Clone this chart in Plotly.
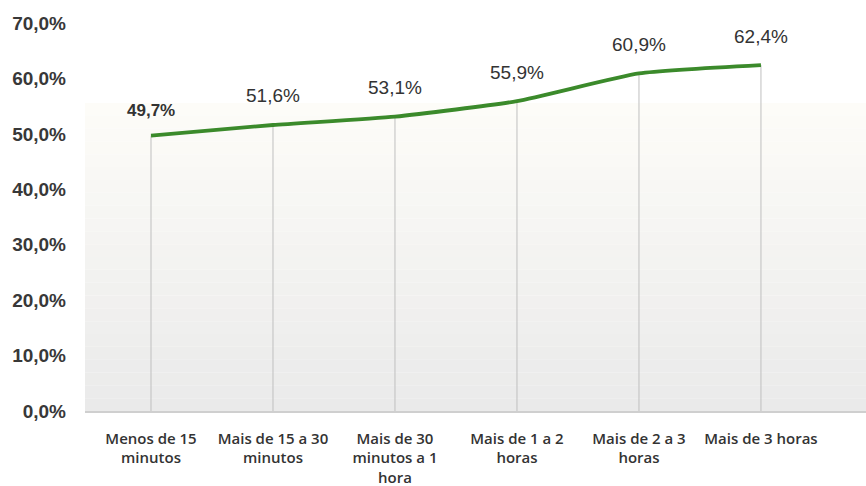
import plotly.graph_objects as go

categories = ["Menos de 15<br>minutos", "Mais de 15 a 30<br>minutos", "Mais de 30<br>minutos a 1<br>hora",
              "Mais de 1 a 2<br>horas", "Mais de 2 a 3<br>horas", "Mais de 3 horas"]
values = [49.7, 51.6, 53.1, 55.9, 60.9, 62.4]
value_labels = ["49,7%", "51,6%", "53,1%", "55,9%", "60,9%", "62,4%"]
y_ticks = [0, 10, 20, 30, 40, 50, 60, 70]
y_tick_labels = ["0,0%", "10,0%", "20,0%", "30,0%", "40,0%", "50,0%", "60,0%", "70,0%"]

fig = go.Figure()

# background gradient bands (style only)
n_bands = 24
top_frac = 0.794
c_top = (253, 252, 248)
c_bot = (234, 234, 234)
for i in range(n_bands):
    t = i / (n_bands - 1)
    c = tuple(int(round(c_top[k] + (c_bot[k] - c_top[k]) * t)) for k in range(3))
    y1 = top_frac - top_frac * i / n_bands
    y0 = top_frac - top_frac * (i + 1) / n_bands
    fig.add_shape(type="rect", xref="paper", yref="paper", x0=0, x1=1, y0=y0, y1=y1,
                  fillcolor="rgb(%d,%d,%d)" % c, line_width=0, layer="below")

# drop lines
fig.add_trace(go.Scatter(
    x=categories, y=values, mode="markers", marker=dict(size=0.1, color="rgba(0,0,0,0)"),
    error_y=dict(type="data", symmetric=False, array=[0] * len(values), arrayminus=values,
                 color="#bfbfbf", thickness=1, width=0),
    hoverinfo="skip", showlegend=False))

# main line
fig.add_trace(go.Scatter(
    x=categories, y=values, mode="lines",
    line=dict(color="#3b8a2b", width=3.8, shape="spline", smoothing=0.5),
    showlegend=False))

for xi, yi, lab, i in zip(categories, values, value_labels, range(len(values))):
    fig.add_annotation(x=xi, y=yi, text=lab, showarrow=False, yshift=29 if i else 25,
                       font=dict(family="Liberation Sans, Arial, sans-serif", size=19 if i else 17,
                                 color="#333333", weight="bold" if i == 0 else "normal"))

fig.update_layout(
    width=866, height=486,
    margin=dict(l=85, r=0, t=23, b=75),
    paper_bgcolor="white", plot_bgcolor="white",
    xaxis=dict(type="category", range=[-0.541, 5.861], showgrid=False, zeroline=False,
               showline=True, linecolor="#cfcfcf", linewidth=1.5, ticks="", automargin=False,
               tickfont=dict(family="Open Sans, sans-serif", size=15, color="#333333", weight=600),
               ticklabelstandoff=13),
    yaxis=dict(range=[0, 70], tickvals=y_ticks, ticktext=y_tick_labels, showgrid=False,
               zeroline=False, showline=False, ticks="", automargin=False,
               tickfont=dict(family="Liberation Sans, Arial, sans-serif", size=19, color="#383838", weight="bold"),
               ticklabelstandoff=18),
)

fig.write_html("out.html", config={"displayModeBar": False},
               post_script="document.body.style.margin='0px';document.body.style.overflow='hidden';")
